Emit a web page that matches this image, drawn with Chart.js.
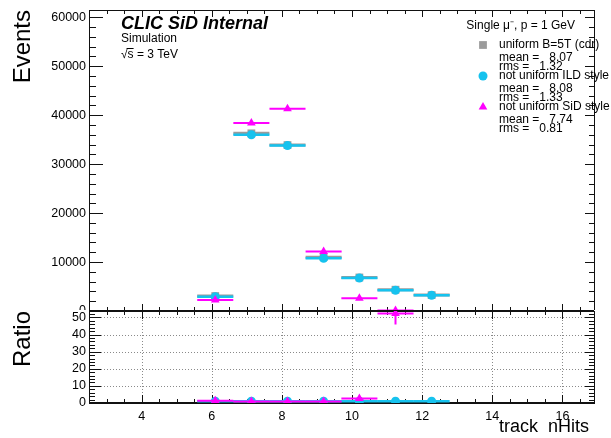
<!DOCTYPE html>
<html lang="en">
<head>
<meta charset="UTF-8">
<title>track nHits</title>
<script src="https://cdn.jsdelivr.net/npm/chart.js"></script>
<style>
  body { margin: 0; background: #fff; }
  #wrap { position: relative; width: 611px; height: 438px; overflow: hidden; }
  canvas { position: absolute; left: 0; }
  #main { top: -10px; }
  #ratio { top: 296px; }
</style>
</head>
<body>
<div id="wrap">
  <canvas id="main" width="611" height="335"></canvas>
  <canvas id="ratio" width="611" height="142"></canvas>
</div>
<script>
// bin centres of the track nHits histogram
const binCenters = [6.1, 7.13, 8.16, 9.19, 10.21, 11.24, 12.27];
const binHalfWidth = 0.514;

// events per bin
const uniformCdr = [3050, 36300, 33900, 11000, 6850, 4350, 3250];
const ildStyle   = [2920, 36000, 33800, 10770, 6750, 4230, 3200];
const sidStyle   = [2250, 38400, 41300, 12150, 2600, 80, null];

// ratio uniform / other
const ratioIld    = [1.04, 1.01, 1.0, 1.02, 1.01, 1.03, 1.02];
const ratioSid    = [1.35, 0.95, 0.82, 0.9, 2.6, 52.4, null];
const ratioSidErr = [0.04, 0.01, 0.01, 0.01, 0.07, 6.5, null];

const legendTitle = 'Single μ⁻, p = 1 GeV';
const legendNames = ['uniform B=5T (cdr)', 'not uniform ILD style', 'not uniform SiD style'];
const legendMeans = ['8.07', '8.08', '7.74'];
const legendRms   = ['1.32', '1.33', '0.81'];
const headerText  = 'CLIC SiD Internal';
const subText     = ['Simulation', '√s = 3 TeV'];

const GREY = '#9b9b9b', CYAN = '#16c2ee', MAGENTA = '#ff00ff';
const FONT = "'Liberation Sans', Arial, sans-serif";
Chart.defaults.font.family = FONT;
Chart.defaults.color = '#000';

function barPoints(values, errs) {
  const pts = [];
  values.forEach((v, i) => {
    if (v === null) return;
    const c = binCenters[i];
    pts.push({x: c - binHalfWidth, y: v}, {x: c + binHalfWidth, y: v}, {x: c, y: null});
    if (errs && errs[i]) pts.push({x: c, y: v - errs[i]}, {x: c, y: v + errs[i]}, {x: c, y: null});
  });
  return pts;
}
function markerPoints(values) {
  return values.map((v, i) => v === null ? null : {x: binCenters[i], y: v}).filter(p => p);
}
function series(values, errs, color, style, radius, width, depth) {
  return [
    { data: markerPoints(values), pointStyle: style, pointRadius: radius, pointBackgroundColor: color,
      pointBorderWidth: 0, order: depth },
    { data: barPoints(values, errs), showLine: true, borderColor: color, borderWidth: width,
      pointRadius: 0, spanGaps: false, order: depth + 1 }
  ];
}

function steps(min, max, step) {
  const out = [];
  for (let i = Math.ceil(min / step - 1e-9); i * step <= max + 1e-9; i++) out.push(i * step);
  return out;
}
function isMajor(v, major) { return Math.abs(v / major - Math.round(v / major)) < 1e-6; }
function fixedTicks(step) {
  return s => { s.ticks = steps(s.min, s.max, step).map(v => ({value: v})); };
}

// ROOT style frame: ticks inside on all sides, optional dotted grid
const rootFrame = {
  id: 'rootFrame',
  beforeDatasetsDraw(chart, args, o) {
    const {ctx, chartArea: a, scales: {x, y}} = chart;
    ctx.save();
    if (o.grid) {
      ctx.strokeStyle = '#8a8a8a'; ctx.lineWidth = 1; ctx.setLineDash([1, 2]);
      ctx.beginPath();
      for (const v of steps(x.min, x.max, o.xMajor)) {
        const px = Math.round(x.getPixelForValue(v)) + 0.5;
        ctx.moveTo(px, a.top); ctx.lineTo(px, a.bottom);
      }
      for (const v of steps(y.min, y.max, o.yMajor)) {
        if (v <= y.min) continue;
        const py = Math.round(y.getPixelForValue(v)) + 0.5;
        ctx.moveTo(a.left, py); ctx.lineTo(a.right, py);
      }
      ctx.stroke();
      ctx.setLineDash([]);
    }
    ctx.strokeStyle = '#111'; ctx.lineWidth = 1;
    ctx.beginPath();
    for (const v of steps(x.min, x.max, o.xMinor)) {
      const len = isMajor(v, o.xMajor) ? o.xTick[0] : o.xTick[1];
      const px = Math.round(x.getPixelForValue(v)) + 0.5;
      ctx.moveTo(px, a.bottom); ctx.lineTo(px, a.bottom - len);
      ctx.moveTo(px, a.top); ctx.lineTo(px, a.top + len);
    }
    for (const v of steps(y.min, y.max, o.yMinor)) {
      const m = isMajor(v, o.yMajor);
      const py = Math.round(y.getPixelForValue(v)) + 0.5;
      ctx.moveTo(a.left, py); ctx.lineTo(a.left + (m ? o.yTickL[0] : o.yTickL[1]), py);
      ctx.moveTo(a.right, py); ctx.lineTo(a.right - (m ? o.yTickR[0] : o.yTickR[1]), py);
    }
    ctx.stroke();
    ctx.strokeRect(Math.round(a.left) + 0.5, Math.round(a.top) + 0.5,
                   Math.round(a.right - a.left), Math.round(a.bottom - a.top));
    ctx.lineWidth = 2;
    ctx.beginPath();
    ctx.moveTo(a.left, Math.round(a.bottom)); ctx.lineTo(a.right, Math.round(a.bottom));
    if (o.thickTop) { ctx.moveTo(a.left, Math.round(a.top)); ctx.lineTo(a.right, Math.round(a.top)); }
    ctx.stroke();
    ctx.restore();
  }
};

// white pad background for the ratio panel, hides the lower half of the "0" label above
const padFill = {
  id: 'padFill',
  beforeDraw(chart) {
    const {ctx, chartArea: a, width, height} = chart;
    ctx.save();
    ctx.fillStyle = '#fff';
    ctx.fillRect(0, Math.round(a.top) - 1, width, height);
    ctx.restore();
  }
};

const texts = {
  id: 'texts',
  afterDraw(chart) {
    const {ctx, chartArea: a} = chart;
    ctx.save();
    ctx.fillStyle = '#000';
    ctx.textBaseline = 'middle';
    ctx.font = 'italic bold 18px ' + FONT;
    ctx.fillText(headerText, a.left + 32, a.top + 14);
    ctx.font = '12px ' + FONT;
    subText.forEach((t, i) => ctx.fillText(t, a.left + 32, a.top + 29 + i * 16));
    // bar over the s of the square root
    const rootW = ctx.measureText('√').width, sW = ctx.measureText('√s').width;
    ctx.fillRect(a.left + 32 + rootW - 1, a.top + 29 + 16 - 7, sW - rootW + 1, 1);
    ctx.textAlign = 'right';
    ctx.fillText(legendTitle, a.right - 19, a.top + 16);
    ctx.textAlign = 'left';
    const styles = [['rect', 5.5, GREY], ['circle', 4.5, CYAN], ['triangle', 5, MAGENTA]];
    legendNames.forEach((name, i) => {
      const y0 = a.top + 35 + i * 31;
      ctx.fillStyle = styles[i][2];
      Chart.helpers.drawPoint(ctx, {pointStyle: styles[i][0], radius: styles[i][1], rotation: 0, borderWidth: 0},
                              a.left + 394, y0);
      ctx.fillStyle = '#000';
      ctx.fillText(name, a.left + 410, y0);
      ctx.fillText('mean =   ' + legendMeans[i], a.left + 410, y0 + 13);
      ctx.fillText('rms =   ' + legendRms[i], a.left + 410, y0 + 22);
    });
    ctx.restore();
  }
};

const tickFont = {family: FONT, size: 12.5};
const titleFont = {family: FONT, size: 24};
const noGrid = {display: false, drawTicks: false, tickLength: 0};

new Chart(document.getElementById('main'), {
  type: 'scatter',
  data: {
    datasets: [
      ...series(uniformCdr, null, GREY, 'rect', 5.5, 3, 5),
      ...series(ildStyle, null, CYAN, 'circle', 4.5, 2.5, 3),
      ...series(sidStyle, null, MAGENTA, 'triangle', 5, 2, 1)
    ]
  },
  options: {
    responsive: false,
    animation: false,
    layout: {padding: {left: 0, right: 17, top: 20, bottom: 14}},
    plugins: {
      legend: {display: false},
      tooltip: {enabled: false},
      rootFrame: {xMajor: 2, xMinor: 0.5, yMajor: 10000, yMinor: 2000,
                  xTick: [7, 4], yTickL: [14, 7], yTickR: [9, 5]}
    },
    scales: {
      x: {type: 'linear', display: false, min: 2.5, max: 16.9},
      y: {
        min: 0, max: 61500,
        afterFit: s => { s.width = 89; },
        afterBuildTicks: fixedTicks(10000),
        grid: noGrid, border: {display: false},
        ticks: {autoSkip: false, padding: 3, font: tickFont, color: '#000', callback: v => String(v)},
        title: {display: true, text: 'Events', align: 'end', font: titleFont, color: '#000',
                padding: {top: 9, bottom: 0}}
      }
    }
  },
  plugins: [rootFrame, texts]
});

new Chart(document.getElementById('ratio'), {
  type: 'scatter',
  data: {
    datasets: [
      ...series(ratioIld, null, CYAN, 'circle', 4.5, 2.5, 3),
      ...series(ratioSid, ratioSidErr, MAGENTA, 'triangle', 5, 2, 1)
    ]
  },
  options: {
    responsive: false,
    animation: false,
    layout: {padding: {left: 0, right: 17, top: 15, bottom: 0}},
    plugins: {
      legend: {display: false},
      tooltip: {enabled: false},
      rootFrame: {grid: true, thickTop: true, xMajor: 2, xMinor: 0.5, yMajor: 10, yMinor: 2,
                  xTick: [8, 4], yTickL: [12, 6], yTickR: [9, 5]}
    },
    scales: {
      x: {
        type: 'linear', min: 2.5, max: 16.9,
        afterFit: s => { s.height = 35; },
        afterBuildTicks: fixedTicks(2),
        grid: noGrid, border: {display: false},
        ticks: {autoSkip: false, maxRotation: 0, padding: 6, font: tickFont, color: '#000'},
        title: {display: true, text: 'track  nHits ', align: 'end', font: {family: FONT, size: 18},
                color: '#000', padding: {top: 0, bottom: 0}}
      },
      y: {
        min: 0, max: 53.8,
        afterFit: s => { s.width = 89; },
        afterBuildTicks: fixedTicks(10),
        grid: noGrid, border: {display: false},
        ticks: {autoSkip: false, padding: 3, font: tickFont, color: '#000'},
        title: {display: true, text: 'Ratio', align: 'end', font: titleFont, color: '#000',
                padding: {top: 9, bottom: 0}}
      }
    }
  },
  plugins: [padFill, rootFrame]
});
</script>
</body>
</html>
